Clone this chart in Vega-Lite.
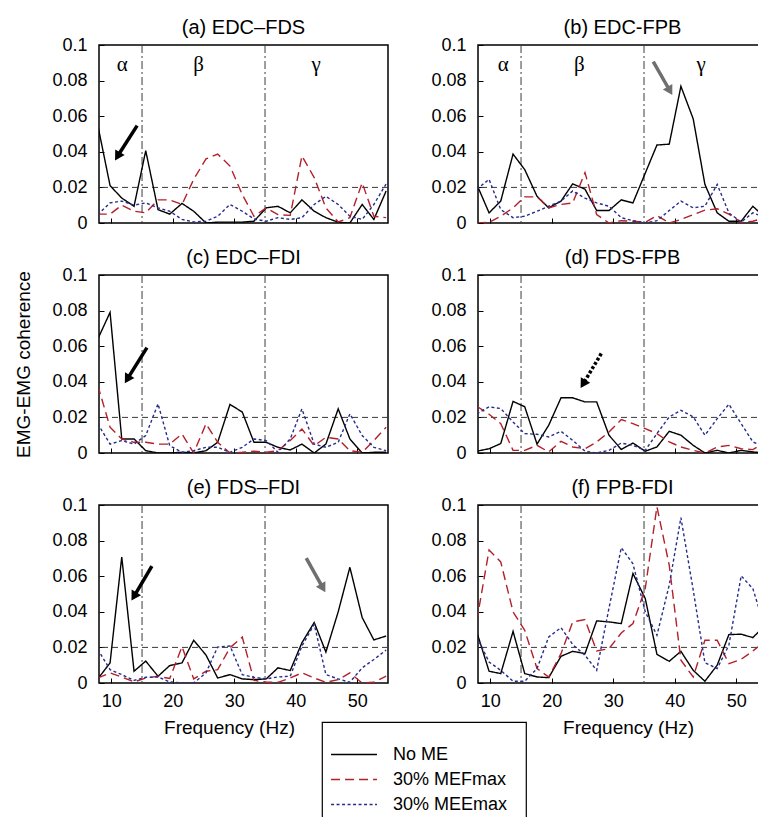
{
  "$schema": "https://vega.github.io/schema/vega-lite/v6.json",
  "padding": {"left": 14, "top": 17, "right": 0, "bottom": 0},
  "datasets": {
    "coh": [
      {"p":"a","f":7.8,"No ME":0.055,"30% MEFmax":0.005,"30% MEEmax":0.0047},
      {"p":"a","f":9.8,"No ME":0.021,"30% MEFmax":0.005,"30% MEEmax":0.0113},
      {"p":"a","f":11.7,"No ME":0.014,"30% MEFmax":0.010,"30% MEEmax":0.0123},
      {"p":"a","f":13.7,"No ME":0.0094,"30% MEFmax":0.0066,"30% MEEmax":0.010},
      {"p":"a","f":15.6,"No ME":0.0406,"30% MEFmax":0.0057,"30% MEEmax":0.0113},
      {"p":"a","f":17.6,"No ME":0.0075,"30% MEFmax":0.013,"30% MEEmax":0.0085},
      {"p":"a","f":19.5,"No ME":0.005,"30% MEFmax":0.013,"30% MEEmax":0.0066},
      {"p":"a","f":21.5,"No ME":0.011,"30% MEFmax":0.0104,"30% MEEmax":0.002},
      {"p":"a","f":23.4,"No ME":0.0066,"30% MEFmax":0.0245,"30% MEEmax":0.0006},
      {"p":"a","f":25.4,"No ME":0.0,"30% MEFmax":0.036,"30% MEEmax":0.001},
      {"p":"a","f":27.3,"No ME":0.0005,"30% MEFmax":0.0387,"30% MEEmax":0.0038},
      {"p":"a","f":29.3,"No ME":0.0005,"30% MEFmax":0.032,"30% MEEmax":0.0104},
      {"p":"a","f":31.3,"No ME":0.0005,"30% MEFmax":0.016,"30% MEEmax":0.0066},
      {"p":"a","f":33.2,"No ME":0.001,"30% MEFmax":0.0038,"30% MEEmax":0.0023},
      {"p":"a","f":35.2,"No ME":0.0085,"30% MEFmax":0.0085,"30% MEEmax":0.001},
      {"p":"a","f":37.1,"No ME":0.0094,"30% MEFmax":0.0047,"30% MEEmax":0.003},
      {"p":"a","f":39.1,"No ME":0.0057,"30% MEFmax":0.0043,"30% MEEmax":0.002},
      {"p":"a","f":41.0,"No ME":0.013,"30% MEFmax":0.0377,"30% MEEmax":0.003},
      {"p":"a","f":43.0,"No ME":0.0066,"30% MEFmax":0.0255,"30% MEEmax":0.0104},
      {"p":"a","f":44.9,"No ME":0.003,"30% MEFmax":0.0085,"30% MEEmax":0.015},
      {"p":"a","f":46.9,"No ME":0.0004,"30% MEFmax":0.0006,"30% MEEmax":0.0104},
      {"p":"a","f":48.8,"No ME":0.0,"30% MEFmax":0.003,"30% MEEmax":0.0038},
      {"p":"a","f":50.8,"No ME":0.0104,"30% MEFmax":0.0226,"30% MEEmax":0.002},
      {"p":"a","f":52.7,"No ME":0.002,"30% MEFmax":0.0038,"30% MEEmax":0.0104},
      {"p":"a","f":54.7,"No ME":0.018,"30% MEFmax":0.003,"30% MEEmax":0.022},

      {"p":"b","f":7.8,"No ME":0.0217,"30% MEFmax":0.0,"30% MEEmax":0.019},
      {"p":"b","f":9.8,"No ME":0.0057,"30% MEFmax":0.0004,"30% MEEmax":0.0245},
      {"p":"b","f":11.7,"No ME":0.0123,"30% MEFmax":0.0038,"30% MEEmax":0.0075},
      {"p":"b","f":13.7,"No ME":0.0387,"30% MEFmax":0.0085,"30% MEEmax":0.003},
      {"p":"b","f":15.6,"No ME":0.030,"30% MEFmax":0.0147,"30% MEEmax":0.0038},
      {"p":"b","f":17.6,"No ME":0.015,"30% MEFmax":0.0147,"30% MEEmax":0.0066},
      {"p":"b","f":19.5,"No ME":0.0085,"30% MEFmax":0.0085,"30% MEEmax":0.0094},
      {"p":"b","f":21.5,"No ME":0.0123,"30% MEFmax":0.0104,"30% MEEmax":0.0123},
      {"p":"b","f":23.4,"No ME":0.022,"30% MEFmax":0.0113,"30% MEEmax":0.018},
      {"p":"b","f":25.4,"No ME":0.019,"30% MEFmax":0.0283,"30% MEEmax":0.014},
      {"p":"b","f":27.3,"No ME":0.007,"30% MEFmax":0.0047,"30% MEEmax":0.0113},
      {"p":"b","f":29.3,"No ME":0.007,"30% MEFmax":0.0,"30% MEEmax":0.0094},
      {"p":"b","f":31.3,"No ME":0.013,"30% MEFmax":0.0013,"30% MEEmax":0.003},
      {"p":"b","f":33.2,"No ME":0.0113,"30% MEFmax":0.001,"30% MEEmax":0.0013},
      {"p":"b","f":35.2,"No ME":0.028,"30% MEFmax":0.0004,"30% MEEmax":0.0},
      {"p":"b","f":37.1,"No ME":0.0438,"30% MEFmax":0.0042,"30% MEEmax":0.0013},
      {"p":"b","f":39.1,"No ME":0.0443,"30% MEFmax":0.0,"30% MEEmax":0.007},
      {"p":"b","f":41.0,"No ME":0.0768,"30% MEFmax":0.002,"30% MEEmax":0.0123},
      {"p":"b","f":43.0,"No ME":0.0585,"30% MEFmax":0.0047,"30% MEEmax":0.0085},
      {"p":"b","f":44.9,"No ME":0.0217,"30% MEFmax":0.0072,"30% MEEmax":0.0094},
      {"p":"b","f":46.9,"No ME":0.0057,"30% MEFmax":0.008,"30% MEEmax":0.0217},
      {"p":"b","f":48.8,"No ME":0.001,"30% MEFmax":0.005,"30% MEEmax":0.0057},
      {"p":"b","f":50.8,"No ME":0.001,"30% MEFmax":0.0004,"30% MEEmax":0.0006},
      {"p":"b","f":52.7,"No ME":0.0094,"30% MEFmax":0.001,"30% MEEmax":0.0057},
      {"p":"b","f":54.7,"No ME":0.003,"30% MEFmax":0.003,"30% MEEmax":0.003},

      {"p":"c","f":7.8,"No ME":0.064,"30% MEFmax":0.038,"30% MEEmax":0.0164},
      {"p":"c","f":9.8,"No ME":0.079,"30% MEFmax":0.0145,"30% MEEmax":0.005},
      {"p":"c","f":11.7,"No ME":0.0079,"30% MEFmax":0.0079,"30% MEEmax":0.007},
      {"p":"c","f":13.7,"No ME":0.0079,"30% MEFmax":0.006,"30% MEEmax":0.005},
      {"p":"c","f":15.6,"No ME":0.0013,"30% MEFmax":0.006,"30% MEEmax":0.0098},
      {"p":"c","f":17.6,"No ME":0.0,"30% MEFmax":0.005,"30% MEEmax":0.0276},
      {"p":"c","f":19.5,"No ME":0.0,"30% MEFmax":0.005,"30% MEEmax":0.0041},
      {"p":"c","f":21.5,"No ME":0.0004,"30% MEFmax":0.0107,"30% MEEmax":0.0004},
      {"p":"c","f":23.4,"No ME":0.0,"30% MEFmax":0.0,"30% MEEmax":0.0013},
      {"p":"c","f":25.4,"No ME":0.0013,"30% MEFmax":0.0164,"30% MEEmax":0.0032},
      {"p":"c","f":27.3,"No ME":0.006,"30% MEFmax":0.006,"30% MEEmax":0.0032},
      {"p":"c","f":29.3,"No ME":0.0273,"30% MEFmax":0.0,"30% MEEmax":0.0004},
      {"p":"c","f":31.3,"No ME":0.023,"30% MEFmax":0.0004,"30% MEEmax":0.0032},
      {"p":"c","f":33.2,"No ME":0.006,"30% MEFmax":0.001,"30% MEEmax":0.0079},
      {"p":"c","f":35.2,"No ME":0.006,"30% MEFmax":0.0004,"30% MEEmax":0.007},
      {"p":"c","f":37.1,"No ME":0.0032,"30% MEFmax":0.0013,"30% MEEmax":0.0004},
      {"p":"c","f":39.1,"No ME":0.0017,"30% MEFmax":0.007,"30% MEEmax":0.0079},
      {"p":"c","f":41.0,"No ME":0.005,"30% MEFmax":0.0135,"30% MEEmax":0.0248},
      {"p":"c","f":43.0,"No ME":0.0,"30% MEFmax":0.0041,"30% MEEmax":0.005},
      {"p":"c","f":44.9,"No ME":0.005,"30% MEFmax":0.0088,"30% MEEmax":0.0032},
      {"p":"c","f":46.9,"No ME":0.0248,"30% MEFmax":0.0079,"30% MEEmax":0.006},
      {"p":"c","f":48.8,"No ME":0.0079,"30% MEFmax":0.0013,"30% MEEmax":0.022},
      {"p":"c","f":50.8,"No ME":0.0,"30% MEFmax":0.0004,"30% MEEmax":0.0098},
      {"p":"c","f":52.7,"No ME":0.0004,"30% MEFmax":0.007,"30% MEEmax":0.0032},
      {"p":"c","f":54.7,"No ME":0.0004,"30% MEFmax":0.0145,"30% MEEmax":0.0013},

      {"p":"d","f":7.8,"No ME":0.001,"30% MEFmax":0.0263,"30% MEEmax":0.022},
      {"p":"d","f":9.8,"No ME":0.0024,"30% MEFmax":0.0218,"30% MEEmax":0.0259},
      {"p":"d","f":11.7,"No ME":0.0053,"30% MEFmax":0.0165,"30% MEEmax":0.025},
      {"p":"d","f":13.7,"No ME":0.029,"30% MEFmax":0.0015,"30% MEEmax":0.0174},
      {"p":"d","f":15.6,"No ME":0.026,"30% MEFmax":0.0015,"30% MEEmax":0.0109},
      {"p":"d","f":17.6,"No ME":0.005,"30% MEFmax":0.0043,"30% MEEmax":0.0105},
      {"p":"d","f":19.5,"No ME":0.0156,"30% MEFmax":0.0006,"30% MEEmax":0.009},
      {"p":"d","f":21.5,"No ME":0.031,"30% MEFmax":0.0066,"30% MEEmax":0.0122},
      {"p":"d","f":23.4,"No ME":0.031,"30% MEFmax":0.0034,"30% MEEmax":0.0071},
      {"p":"d","f":25.4,"No ME":0.0287,"30% MEFmax":0.0024,"30% MEEmax":0.001},
      {"p":"d","f":27.3,"No ME":0.0287,"30% MEFmax":0.0062,"30% MEEmax":0.0},
      {"p":"d","f":29.3,"No ME":0.01,"30% MEFmax":0.0118,"30% MEEmax":0.0015},
      {"p":"d","f":31.3,"No ME":0.002,"30% MEFmax":0.0188,"30% MEEmax":0.0056},
      {"p":"d","f":33.2,"No ME":0.0056,"30% MEFmax":0.0165,"30% MEEmax":0.0043},
      {"p":"d","f":35.2,"No ME":0.001,"30% MEFmax":0.0137,"30% MEEmax":0.0015},
      {"p":"d","f":37.1,"No ME":0.0034,"30% MEFmax":0.0109,"30% MEEmax":0.0109},
      {"p":"d","f":39.1,"No ME":0.0122,"30% MEFmax":0.0062,"30% MEEmax":0.0203},
      {"p":"d","f":41.0,"No ME":0.01,"30% MEFmax":0.0034,"30% MEEmax":0.024},
      {"p":"d","f":43.0,"No ME":0.0043,"30% MEFmax":0.0015,"30% MEEmax":0.0203},
      {"p":"d","f":44.9,"No ME":0.0,"30% MEFmax":0.0,"30% MEEmax":0.01},
      {"p":"d","f":46.9,"No ME":0.0015,"30% MEFmax":0.0034,"30% MEEmax":0.0193},
      {"p":"d","f":48.8,"No ME":0.0,"30% MEFmax":0.0043,"30% MEEmax":0.0274},
      {"p":"d","f":50.8,"No ME":0.0015,"30% MEFmax":0.0024,"30% MEEmax":0.0165},
      {"p":"d","f":52.7,"No ME":0.0006,"30% MEFmax":0.0019,"30% MEEmax":0.0062},
      {"p":"d","f":54.7,"No ME":0.0,"30% MEFmax":0.006,"30% MEEmax":0.0034},

      {"p":"e","f":7.8,"No ME":0.0023,"30% MEFmax":0.0028,"30% MEEmax":0.0189},
      {"p":"e","f":9.8,"No ME":0.0113,"30% MEFmax":0.0057,"30% MEEmax":0.0075},
      {"p":"e","f":11.7,"No ME":0.0708,"30% MEFmax":0.0034,"30% MEEmax":0.0047},
      {"p":"e","f":13.7,"No ME":0.0066,"30% MEFmax":0.0006,"30% MEEmax":0.0015},
      {"p":"e","f":15.6,"No ME":0.0123,"30% MEFmax":0.0028,"30% MEEmax":0.0032},
      {"p":"e","f":17.6,"No ME":0.0038,"30% MEFmax":0.0038,"30% MEEmax":0.0034},
      {"p":"e","f":19.5,"No ME":0.0098,"30% MEFmax":0.0025,"30% MEEmax":0.0006},
      {"p":"e","f":21.5,"No ME":0.0113,"30% MEFmax":0.0204,"30% MEEmax":0.0},
      {"p":"e","f":23.4,"No ME":0.024,"30% MEFmax":0.0023,"30% MEEmax":0.0},
      {"p":"e","f":25.4,"No ME":0.0157,"30% MEFmax":0.0066,"30% MEEmax":0.0057},
      {"p":"e","f":27.3,"No ME":0.0028,"30% MEFmax":0.0075,"30% MEEmax":0.0202},
      {"p":"e","f":29.3,"No ME":0.0047,"30% MEFmax":0.0198,"30% MEEmax":0.0208},
      {"p":"e","f":31.3,"No ME":0.0023,"30% MEFmax":0.0258,"30% MEEmax":0.0047},
      {"p":"e","f":33.2,"No ME":0.0019,"30% MEFmax":0.0015,"30% MEEmax":0.0032},
      {"p":"e","f":35.2,"No ME":0.0023,"30% MEFmax":0.0004,"30% MEEmax":0.0023},
      {"p":"e","f":37.1,"No ME":0.0085,"30% MEFmax":0.0004,"30% MEEmax":0.0034},
      {"p":"e","f":39.1,"No ME":0.007,"30% MEFmax":0.0028,"30% MEEmax":0.0038},
      {"p":"e","f":41.0,"No ME":0.0226,"30% MEFmax":0.0057,"30% MEEmax":0.0208},
      {"p":"e","f":43.0,"No ME":0.034,"30% MEFmax":0.0028,"30% MEEmax":0.033},
      {"p":"e","f":44.9,"No ME":0.0174,"30% MEFmax":0.0004,"30% MEEmax":0.0047},
      {"p":"e","f":46.9,"No ME":0.04,"30% MEFmax":0.0019,"30% MEEmax":0.0023},
      {"p":"e","f":48.8,"No ME":0.065,"30% MEFmax":0.0057,"30% MEEmax":0.0004},
      {"p":"e","f":50.8,"No ME":0.0368,"30% MEFmax":0.0,"30% MEEmax":0.0085},
      {"p":"e","f":52.7,"No ME":0.0242,"30% MEFmax":0.0004,"30% MEEmax":0.0132},
      {"p":"e","f":54.7,"No ME":0.0264,"30% MEFmax":0.0038,"30% MEEmax":0.0185},

      {"p":"f","f":7.8,"No ME":0.0287,"30% MEFmax":0.035,"30% MEEmax":0.0259},
      {"p":"f","f":9.8,"No ME":0.0066,"30% MEFmax":0.0747,"30% MEEmax":0.0118},
      {"p":"f","f":11.7,"No ME":0.0053,"30% MEFmax":0.068,"30% MEEmax":0.0071},
      {"p":"f","f":13.7,"No ME":0.029,"30% MEFmax":0.04,"30% MEEmax":0.001},
      {"p":"f","f":15.6,"No ME":0.0053,"30% MEFmax":0.0296,"30% MEEmax":0.001},
      {"p":"f","f":17.6,"No ME":0.0034,"30% MEFmax":0.0081,"30% MEEmax":0.0081},
      {"p":"f","f":19.5,"No ME":0.003,"30% MEFmax":0.0034,"30% MEEmax":0.0259},
      {"p":"f","f":21.5,"No ME":0.015,"30% MEFmax":0.0165,"30% MEEmax":0.0311},
      {"p":"f","f":23.4,"No ME":0.0178,"30% MEFmax":0.0343,"30% MEEmax":0.0216},
      {"p":"f","f":25.4,"No ME":0.0165,"30% MEFmax":0.0356,"30% MEEmax":0.0156},
      {"p":"f","f":27.3,"No ME":0.0349,"30% MEFmax":0.018,"30% MEEmax":0.0071},
      {"p":"f","f":29.3,"No ME":0.0343,"30% MEFmax":0.0193,"30% MEEmax":0.042},
      {"p":"f","f":31.3,"No ME":0.0334,"30% MEFmax":0.0281,"30% MEEmax":0.076},
      {"p":"f","f":33.2,"No ME":0.0615,"30% MEFmax":0.0334,"30% MEEmax":0.067},
      {"p":"f","f":35.2,"No ME":0.0475,"30% MEFmax":0.053,"30% MEEmax":0.04},
      {"p":"f","f":37.1,"No ME":0.0161,"30% MEFmax":0.099,"30% MEEmax":0.0268},
      {"p":"f","f":39.1,"No ME":0.0122,"30% MEFmax":0.0662,"30% MEEmax":0.055},
      {"p":"f","f":41.0,"No ME":0.0178,"30% MEFmax":0.0128,"30% MEEmax":0.0929},
      {"p":"f","f":43.0,"No ME":0.0071,"30% MEFmax":0.0034,"30% MEEmax":0.0522},
      {"p":"f","f":44.9,"No ME":0.001,"30% MEFmax":0.024,"30% MEEmax":0.0114},
      {"p":"f","f":46.9,"No ME":0.01,"30% MEFmax":0.024,"30% MEEmax":0.0081},
      {"p":"f","f":48.8,"No ME":0.0272,"30% MEFmax":0.0109,"30% MEEmax":0.0212},
      {"p":"f","f":50.8,"No ME":0.0274,"30% MEFmax":0.0133,"30% MEEmax":0.0602},
      {"p":"f","f":52.7,"No ME":0.0255,"30% MEFmax":0.018,"30% MEEmax":0.053},
      {"p":"f","f":54.7,"No ME":0.0325,"30% MEFmax":0.0235,"30% MEEmax":0.0306}
    ],
    "bands": [{"f": 15}, {"f": 35}],
    "thr": [{"c": 0.02}],
    "arrows": [
      {"p":"a","k":"black","f":14.2,"c":0.0547,"f2":11.14,"c2":0.0382},
      {"p":"b","k":"gray","f":36.5,"c":0.0906,"f2":39.09,"c2":0.075},
      {"p":"c","k":"black","f":15.8,"c":0.0592,"f2":12.73,"c2":0.0422},
      {"p":"d","k":"dotted","f":28.05,"c":0.0559,"f2":25.22,"c2":0.0395},
      {"p":"e","k":"black","f":16.6,"c":0.0657,"f2":13.81,"c2":0.0494},
      {"p":"e","k":"gray","f":41.7,"c":0.0702,"f2":44.3,"c2":0.0541}
    ],
    "heads": [
      {"p":"a","k":"black","f":11.14,"c":0.0382},
      {"p":"b","k":"gray","f":39.09,"c":0.075},
      {"p":"c","k":"black","f":12.73,"c":0.0422},
      {"p":"d","k":"black","f":25.22,"c":0.0395},
      {"p":"e","k":"black","f":13.81,"c":0.0494},
      {"p":"e","k":"gray","f":44.3,"c":0.0541}
    ],
    "greek": [
      {"p":"a","f":11.8,"c":0.089,"g":"α"},
      {"p":"a","f":24.2,"c":0.089,"g":"β"},
      {"p":"a","f":43.3,"c":0.089,"g":"γ"},
      {"p":"b","f":12.1,"c":0.089,"g":"α"},
      {"p":"b","f":24.5,"c":0.089,"g":"β"},
      {"p":"b","f":44.3,"c":0.089,"g":"γ"}
    ]
  },
  "columns": 2,
  "spacing": {"row": 14, "column": 40},
  "concat": [
    {
      "width": 289, "height": 178,
      "title": "(a) EDC–FDS",
      "layer": [
        {"data": {"name": "bands"}, "mark": {"type": "rule", "color": "#3a3a3a", "strokeWidth": 1, "strokeDash": [8, 3, 2, 3]}, "encoding": {"x": {"field": "f", "type": "quantitative"}}},
        {"data": {"name": "thr"}, "mark": {"type": "rule", "color": "#3a3a3a", "strokeWidth": 1, "strokeDash": [6, 4]}, "encoding": {"y": {"field": "c", "type": "quantitative"}}},
        {"data": {"name": "coh"}, "transform": [{"filter": "datum.p === 'a'"}, {"fold": ["No ME", "30% MEFmax", "30% MEEmax"], "as": ["s", "c"]}],
          "mark": {"type": "line", "clip": true, "strokeWidth": 1.4},
          "encoding": {
            "x": {"field": "f", "type": "quantitative", "scale": {"domain": [8, 55], "nice": false, "zero": false}, "axis": {"values": [10, 20, 30, 40, 50], "tickCount": 6, "labels": false, "title": null}},
            "y": {"field": "c", "type": "quantitative", "scale": {"domain": [0, 0.1], "nice": false}, "axis": {"values": [0, 0.02, 0.04, 0.06, 0.08, 0.1], "tickCount": 7, "format": "~g", "labelOverlap": false, "title": null}},
            "color": {"field": "s", "type": "nominal", "scale": {"domain": ["No ME", "30% MEFmax", "30% MEEmax"], "range": ["#000000", "#b3202a", "#262c8c"]}, "legend": {"title": null, "symbolType": "M-1.7,0L1.7,0", "symbolSize": 729}},
            "strokeDash": {"field": "s", "type": "nominal", "scale": {"domain": ["No ME", "30% MEFmax", "30% MEEmax"], "range": [[1, 0], [9, 5], [3, 2.5]]}, "legend": {"title": null, "symbolType": "M-1.7,0L1.7,0", "symbolSize": 729}}
          }},
        {"data": {"name": "arrows"}, "transform": [{"filter": "datum.p === 'a'"}], "mark": {"type": "rule", "color": "black", "strokeWidth": 3.5}, "encoding": {"x": {"field": "f", "type": "quantitative"}, "y": {"field": "c", "type": "quantitative"}, "x2": {"field": "f2"}, "y2": {"field": "c2"}}},
        {"data": {"name": "heads"}, "transform": [{"filter": "datum.p === 'a'"}], "mark": {"type": "point", "shape": "triangle", "filled": true, "color": "black", "opacity": 1, "size": 120, "angle": 211}, "encoding": {"x": {"field": "f", "type": "quantitative"}, "y": {"field": "c", "type": "quantitative"}}},
        {"data": {"name": "greek"}, "transform": [{"filter": "datum.p === 'a'"}], "mark": {"type": "text", "font": "Liberation Serif", "fontSize": 21, "color": "black"}, "encoding": {"x": {"field": "f", "type": "quantitative"}, "y": {"field": "c", "type": "quantitative"}, "text": {"field": "g"}}}
      ]
    },
    {
      "width": 289, "height": 178,
      "title": "(b) EDC-FPB",
      "layer": [
        {"data": {"name": "bands"}, "mark": {"type": "rule", "color": "#3a3a3a", "strokeWidth": 1, "strokeDash": [8, 3, 2, 3]}, "encoding": {"x": {"field": "f", "type": "quantitative"}}},
        {"data": {"name": "thr"}, "mark": {"type": "rule", "color": "#3a3a3a", "strokeWidth": 1, "strokeDash": [6, 4]}, "encoding": {"y": {"field": "c", "type": "quantitative"}}},
        {"data": {"name": "coh"}, "transform": [{"filter": "datum.p === 'b'"}, {"fold": ["No ME", "30% MEFmax", "30% MEEmax"], "as": ["s", "c"]}],
          "mark": {"type": "line", "clip": true, "strokeWidth": 1.4},
          "encoding": {
            "x": {"field": "f", "type": "quantitative", "scale": {"domain": [8, 55], "nice": false, "zero": false}, "axis": {"values": [10, 20, 30, 40, 50], "tickCount": 6, "labels": false, "title": null}},
            "y": {"field": "c", "type": "quantitative", "scale": {"domain": [0, 0.1], "nice": false}, "axis": {"values": [0, 0.02, 0.04, 0.06, 0.08, 0.1], "tickCount": 7, "format": "~g", "labelOverlap": false, "title": null}},
            "color": {"field": "s", "type": "nominal", "scale": {"domain": ["No ME", "30% MEFmax", "30% MEEmax"], "range": ["#000000", "#b3202a", "#262c8c"]}, "legend": {"title": null, "symbolType": "M-1.7,0L1.7,0", "symbolSize": 729}},
            "strokeDash": {"field": "s", "type": "nominal", "scale": {"domain": ["No ME", "30% MEFmax", "30% MEEmax"], "range": [[1, 0], [9, 5], [3, 2.5]]}, "legend": {"title": null, "symbolType": "M-1.7,0L1.7,0", "symbolSize": 729}}
          }},
        {"data": {"name": "arrows"}, "transform": [{"filter": "datum.p === 'b'"}], "mark": {"type": "rule", "color": "#6f6f6f", "strokeWidth": 3.5}, "encoding": {"x": {"field": "f", "type": "quantitative"}, "y": {"field": "c", "type": "quantitative"}, "x2": {"field": "f2"}, "y2": {"field": "c2"}}},
        {"data": {"name": "heads"}, "transform": [{"filter": "datum.p === 'b'"}], "mark": {"type": "point", "shape": "triangle", "filled": true, "color": "#6f6f6f", "opacity": 1, "size": 120, "angle": 150}, "encoding": {"x": {"field": "f", "type": "quantitative"}, "y": {"field": "c", "type": "quantitative"}}},
        {"data": {"name": "greek"}, "transform": [{"filter": "datum.p === 'b'"}], "mark": {"type": "text", "font": "Liberation Serif", "fontSize": 21, "color": "black"}, "encoding": {"x": {"field": "f", "type": "quantitative"}, "y": {"field": "c", "type": "quantitative"}, "text": {"field": "g"}}}
      ]
    },
    {
      "width": 289, "height": 178,
      "title": "(c) EDC–FDI",
      "layer": [
        {"data": {"name": "bands"}, "mark": {"type": "rule", "color": "#3a3a3a", "strokeWidth": 1, "strokeDash": [8, 3, 2, 3]}, "encoding": {"x": {"field": "f", "type": "quantitative"}}},
        {"data": {"name": "thr"}, "mark": {"type": "rule", "color": "#3a3a3a", "strokeWidth": 1, "strokeDash": [6, 4]}, "encoding": {"y": {"field": "c", "type": "quantitative"}}},
        {"data": {"name": "coh"}, "transform": [{"filter": "datum.p === 'c'"}, {"fold": ["No ME", "30% MEFmax", "30% MEEmax"], "as": ["s", "c"]}],
          "mark": {"type": "line", "clip": true, "strokeWidth": 1.4},
          "encoding": {
            "x": {"field": "f", "type": "quantitative", "scale": {"domain": [8, 55], "nice": false, "zero": false}, "axis": {"values": [10, 20, 30, 40, 50], "tickCount": 6, "labels": false, "title": null}},
            "y": {"field": "c", "type": "quantitative", "scale": {"domain": [0, 0.1], "nice": false}, "axis": {"values": [0, 0.02, 0.04, 0.06, 0.08, 0.1], "tickCount": 7, "format": "~g", "labelOverlap": false, "title": "EMG-EMG coherence"}},
            "color": {"field": "s", "type": "nominal", "scale": {"domain": ["No ME", "30% MEFmax", "30% MEEmax"], "range": ["#000000", "#b3202a", "#262c8c"]}, "legend": {"title": null, "symbolType": "M-1.7,0L1.7,0", "symbolSize": 729}},
            "strokeDash": {"field": "s", "type": "nominal", "scale": {"domain": ["No ME", "30% MEFmax", "30% MEEmax"], "range": [[1, 0], [9, 5], [3, 2.5]]}, "legend": {"title": null, "symbolType": "M-1.7,0L1.7,0", "symbolSize": 729}}
          }},
        {"data": {"name": "arrows"}, "transform": [{"filter": "datum.p === 'c'"}], "mark": {"type": "rule", "color": "black", "strokeWidth": 3.5}, "encoding": {"x": {"field": "f", "type": "quantitative"}, "y": {"field": "c", "type": "quantitative"}, "x2": {"field": "f2"}, "y2": {"field": "c2"}}},
        {"data": {"name": "heads"}, "transform": [{"filter": "datum.p === 'c'"}], "mark": {"type": "point", "shape": "triangle", "filled": true, "color": "black", "opacity": 1, "size": 120, "angle": 211}, "encoding": {"x": {"field": "f", "type": "quantitative"}, "y": {"field": "c", "type": "quantitative"}}}
      ]
    },
    {
      "width": 289, "height": 178,
      "title": "(d) FDS-FPB",
      "layer": [
        {"data": {"name": "bands"}, "mark": {"type": "rule", "color": "#3a3a3a", "strokeWidth": 1, "strokeDash": [8, 3, 2, 3]}, "encoding": {"x": {"field": "f", "type": "quantitative"}}},
        {"data": {"name": "thr"}, "mark": {"type": "rule", "color": "#3a3a3a", "strokeWidth": 1, "strokeDash": [6, 4]}, "encoding": {"y": {"field": "c", "type": "quantitative"}}},
        {"data": {"name": "coh"}, "transform": [{"filter": "datum.p === 'd'"}, {"fold": ["No ME", "30% MEFmax", "30% MEEmax"], "as": ["s", "c"]}],
          "mark": {"type": "line", "clip": true, "strokeWidth": 1.4},
          "encoding": {
            "x": {"field": "f", "type": "quantitative", "scale": {"domain": [8, 55], "nice": false, "zero": false}, "axis": {"values": [10, 20, 30, 40, 50], "tickCount": 6, "labels": false, "title": null}},
            "y": {"field": "c", "type": "quantitative", "scale": {"domain": [0, 0.1], "nice": false}, "axis": {"values": [0, 0.02, 0.04, 0.06, 0.08, 0.1], "tickCount": 7, "format": "~g", "labelOverlap": false, "title": null}},
            "color": {"field": "s", "type": "nominal", "scale": {"domain": ["No ME", "30% MEFmax", "30% MEEmax"], "range": ["#000000", "#b3202a", "#262c8c"]}, "legend": {"title": null, "symbolType": "M-1.7,0L1.7,0", "symbolSize": 729}},
            "strokeDash": {"field": "s", "type": "nominal", "scale": {"domain": ["No ME", "30% MEFmax", "30% MEEmax"], "range": [[1, 0], [9, 5], [3, 2.5]]}, "legend": {"title": null, "symbolType": "M-1.7,0L1.7,0", "symbolSize": 729}}
          }},
        {"data": {"name": "arrows"}, "transform": [{"filter": "datum.p === 'd'"}], "mark": {"type": "rule", "color": "black", "strokeWidth": 3.5, "strokeDash": [3, 2]}, "encoding": {"x": {"field": "f", "type": "quantitative"}, "y": {"field": "c", "type": "quantitative"}, "x2": {"field": "f2"}, "y2": {"field": "c2"}}},
        {"data": {"name": "heads"}, "transform": [{"filter": "datum.p === 'd'"}], "mark": {"type": "point", "shape": "triangle", "filled": true, "color": "black", "opacity": 1, "size": 120, "angle": 211}, "encoding": {"x": {"field": "f", "type": "quantitative"}, "y": {"field": "c", "type": "quantitative"}}}
      ]
    },
    {
      "width": 289, "height": 178,
      "title": "(e) FDS–FDI",
      "layer": [
        {"data": {"name": "bands"}, "mark": {"type": "rule", "color": "#3a3a3a", "strokeWidth": 1, "strokeDash": [8, 3, 2, 3]}, "encoding": {"x": {"field": "f", "type": "quantitative"}}},
        {"data": {"name": "thr"}, "mark": {"type": "rule", "color": "#3a3a3a", "strokeWidth": 1, "strokeDash": [6, 4]}, "encoding": {"y": {"field": "c", "type": "quantitative"}}},
        {"data": {"name": "coh"}, "transform": [{"filter": "datum.p === 'e'"}, {"fold": ["No ME", "30% MEFmax", "30% MEEmax"], "as": ["s", "c"]}],
          "mark": {"type": "line", "clip": true, "strokeWidth": 1.4},
          "encoding": {
            "x": {"field": "f", "type": "quantitative", "scale": {"domain": [8, 55], "nice": false, "zero": false}, "axis": {"values": [10, 20, 30, 40, 50], "tickCount": 6, "labelOverlap": false, "title": "Frequency (Hz)", "titleX": 130}},
            "y": {"field": "c", "type": "quantitative", "scale": {"domain": [0, 0.1], "nice": false}, "axis": {"values": [0, 0.02, 0.04, 0.06, 0.08, 0.1], "tickCount": 7, "format": "~g", "labelOverlap": false, "title": null}},
            "color": {"field": "s", "type": "nominal", "scale": {"domain": ["No ME", "30% MEFmax", "30% MEEmax"], "range": ["#000000", "#b3202a", "#262c8c"]}, "legend": {"title": null, "symbolType": "M-1.7,0L1.7,0", "symbolSize": 729}},
            "strokeDash": {"field": "s", "type": "nominal", "scale": {"domain": ["No ME", "30% MEFmax", "30% MEEmax"], "range": [[1, 0], [9, 5], [3, 2.5]]}, "legend": {"title": null, "symbolType": "M-1.7,0L1.7,0", "symbolSize": 729}}
          }},
        {"data": {"name": "arrows"}, "transform": [{"filter": "datum.p === 'e' && datum.k === 'black'"}], "mark": {"type": "rule", "color": "black", "strokeWidth": 3.5}, "encoding": {"x": {"field": "f", "type": "quantitative"}, "y": {"field": "c", "type": "quantitative"}, "x2": {"field": "f2"}, "y2": {"field": "c2"}}},
        {"data": {"name": "heads"}, "transform": [{"filter": "datum.p === 'e' && datum.k === 'black'"}], "mark": {"type": "point", "shape": "triangle", "filled": true, "color": "black", "opacity": 1, "size": 120, "angle": 211}, "encoding": {"x": {"field": "f", "type": "quantitative"}, "y": {"field": "c", "type": "quantitative"}}},
        {"data": {"name": "arrows"}, "transform": [{"filter": "datum.p === 'e' && datum.k === 'gray'"}], "mark": {"type": "rule", "color": "#6f6f6f", "strokeWidth": 3.5}, "encoding": {"x": {"field": "f", "type": "quantitative"}, "y": {"field": "c", "type": "quantitative"}, "x2": {"field": "f2"}, "y2": {"field": "c2"}}},
        {"data": {"name": "heads"}, "transform": [{"filter": "datum.p === 'e' && datum.k === 'gray'"}], "mark": {"type": "point", "shape": "triangle", "filled": true, "color": "#6f6f6f", "opacity": 1, "size": 120, "angle": 150}, "encoding": {"x": {"field": "f", "type": "quantitative"}, "y": {"field": "c", "type": "quantitative"}}}
      ]
    },
    {
      "width": 289, "height": 178,
      "title": "(f) FPB-FDI",
      "layer": [
        {"data": {"name": "bands"}, "mark": {"type": "rule", "color": "#3a3a3a", "strokeWidth": 1, "strokeDash": [8, 3, 2, 3]}, "encoding": {"x": {"field": "f", "type": "quantitative"}}},
        {"data": {"name": "thr"}, "mark": {"type": "rule", "color": "#3a3a3a", "strokeWidth": 1, "strokeDash": [6, 4]}, "encoding": {"y": {"field": "c", "type": "quantitative"}}},
        {"data": {"name": "coh"}, "transform": [{"filter": "datum.p === 'f'"}, {"fold": ["No ME", "30% MEFmax", "30% MEEmax"], "as": ["s", "c"]}],
          "mark": {"type": "line", "clip": true, "strokeWidth": 1.4},
          "encoding": {
            "x": {"field": "f", "type": "quantitative", "scale": {"domain": [8, 55], "nice": false, "zero": false}, "axis": {"values": [10, 20, 30, 40, 50], "tickCount": 6, "labelOverlap": false, "title": "Frequency (Hz)", "titleX": 150}},
            "y": {"field": "c", "type": "quantitative", "scale": {"domain": [0, 0.1], "nice": false}, "axis": {"values": [0, 0.02, 0.04, 0.06, 0.08, 0.1], "tickCount": 7, "format": "~g", "labelOverlap": false, "title": null}},
            "color": {"field": "s", "type": "nominal", "scale": {"domain": ["No ME", "30% MEFmax", "30% MEEmax"], "range": ["#000000", "#b3202a", "#262c8c"]}, "legend": {"title": null, "symbolType": "M-1.7,0L1.7,0", "symbolSize": 729}},
            "strokeDash": {"field": "s", "type": "nominal", "scale": {"domain": ["No ME", "30% MEFmax", "30% MEEmax"], "range": [[1, 0], [9, 5], [3, 2.5]]}, "legend": {"title": null, "symbolType": "M-1.7,0L1.7,0", "symbolSize": 729}}
          }}
      ]
    }
  ],
  "config": {
    "font": "Liberation Sans",
    "view": {"stroke": "black", "strokeWidth": 1.5},
    "axis": {"grid": false, "domain": false, "tickSize": -5, "tickColor": "black", "tickWidth": 1, "labelFontSize": 18, "labelColor": "black", "labelOverlap": false, "labelFlush": false, "labelBound": false, "labelFont": "Liberation Sans", "titleFont": "Liberation Sans", "titleFontSize": 19, "titleFontWeight": "normal", "titleColor": "black"},
    "axisY": {"titlePadding": 18, "labelPadding": 17},
    "axisX": {"titlePadding": 8, "labelPadding": 14},
    "title": {"fontSize": 20, "fontWeight": "normal", "offset": -2, "color": "black", "font": "Liberation Sans"},
    "legend": {"orient": "none", "legendX": 223, "legendY": 677, "strokeColor": "black", "strokeWidth": 1.2, "fillColor": "white", "padding": 18, "labelFontSize": 18, "labelColor": "black", "labelFont": "Liberation Sans", "symbolStrokeWidth": 1.5, "symbolOffset": -0.5, "rowPadding": 1, "labelOffset": 24.5}
  }
}
